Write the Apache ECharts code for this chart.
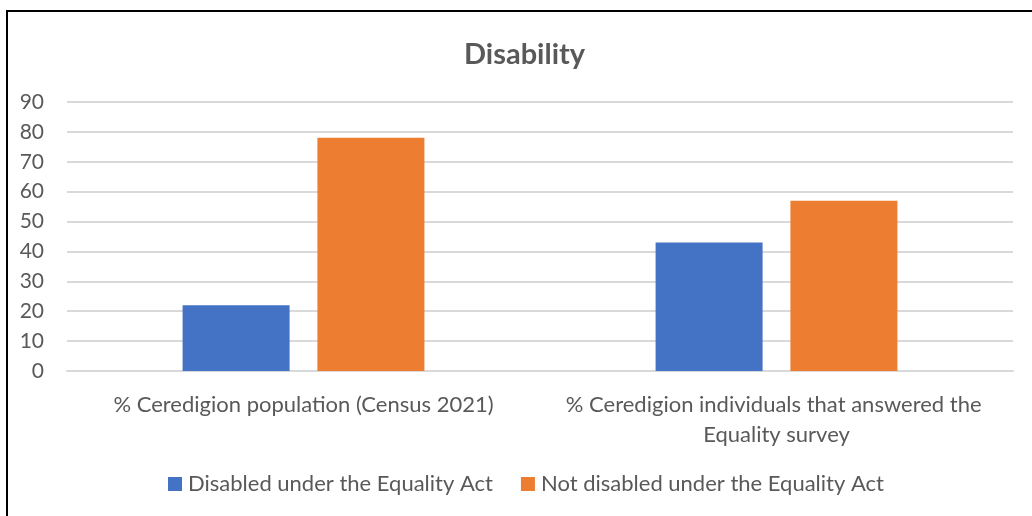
<!DOCTYPE html>
<html>
<head>
<meta charset="utf-8">
<script src="https://cdn.jsdelivr.net/npm/echarts@6/dist/echarts.min.js"></script>
<style>
html,body{margin:0;padding:0;background:#fff;}
#chart{width:1032px;height:516px;}
</style>
</head>
<body>
<div id="chart"></div>
<script>
const titleText = 'Disability';
const categories = ['% Ceredigion population (Census 2021)', '% Ceredigion individuals that answered the Equality survey'];
const seriesNames = ['Disabled under the Equality Act', 'Not disabled under the Equality Act'];
const disabled = [22, 43];
const notDisabled = [78, 57];
const yTicks = { min: 0, max: 90, interval: 10 };

const FONT = 'Lato';
const TXT = '#595959';
const chart = echarts.init(document.getElementById('chart'), null, { renderer: 'canvas' });
chart.setOption({
  animation: false,
  backgroundColor: '#ffffff',
  title: {
    text: titleText,
    left: 459,
    top: 35,
    textStyle: { fontFamily: FONT, fontSize: 29, fontWeight: 'bold', color: TXT }
  },
  graphic: [{
    type: 'polyline',
    shape: { points: [[7, 516], [7, 11], [1032, 11]] },
    style: { stroke: '#000', lineWidth: 2, fill: null }
  }],
  legend: {
    bottom: 16,
    left: 163,
    itemWidth: 14,
    itemHeight: 14,
    itemGap: 28,
    icon: 'rect',
    textStyle: { fontFamily: FONT, fontSize: 22, color: TXT, padding: [0, 0, 0, 1] },
    data: seriesNames
  },
  grid: { left: 67, right: 19, top: 102, bottom: 145, containLabel: false },
  xAxis: {
    type: 'category',
    data: categories,
    axisLine: { show: true, lineStyle: { color: '#d9d9d9', width: 2 } },
    axisTick: { show: false },
    axisLabel: {
      fontFamily: FONT, fontSize: 22, color: TXT, margin: 19,
      width: 430, overflow: 'break', lineHeight: 30, interval: 0
    }
  },
  yAxis: {
    type: 'value',
    min: yTicks.min, max: yTicks.max, interval: yTicks.interval,
    axisLine: { show: false },
    axisTick: { show: false },
    splitLine: { lineStyle: { color: '#d9d9d9', width: 2 } },
    axisLabel: { fontFamily: FONT, fontSize: 21, color: TXT, margin: 23 }
  },
  series: [
    { name: seriesNames[0], type: 'bar', data: disabled, barWidth: 107, barGap: '26%', itemStyle: { color: '#4472C4' } },
    { name: seriesNames[1], type: 'bar', data: notDisabled, barWidth: 107, barGap: '26%', itemStyle: { color: '#ED7D31' } }
  ]
});
</script>
</body>
</html>
